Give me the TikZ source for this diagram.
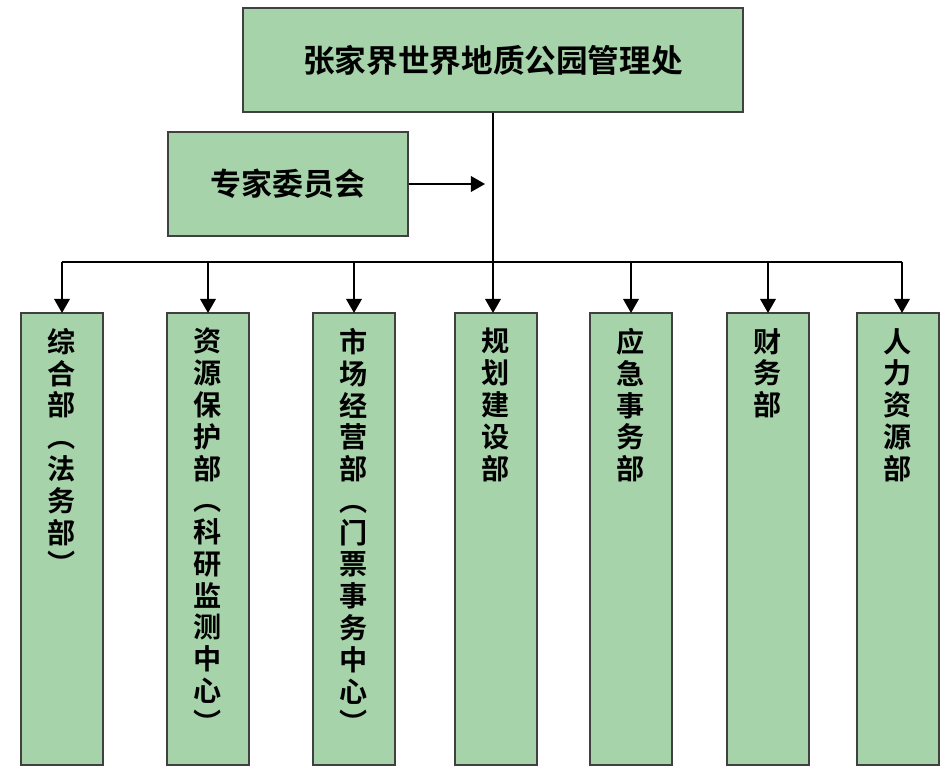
\documentclass[tikz,border=0pt]{standalone}
\usepackage{fontspec}
\setmainfont{Noto Sans CJK SC Bold}
\usetikzlibrary{arrows.meta}
\definecolor{boxgreen}{RGB}{166,211,170}
\begin{document}
\begin{tikzpicture}[x=0.025cm,y=-0.025cm]
    % Define styles
    \tikzset{
        unit/.style={rectangle, draw=black!75, line width=1.2pt, fill=boxgreen, inner sep=0pt},
        dept/.style={unit, minimum width=2.05cm, minimum height=11.3cm},
        vtext/.style={anchor=north, align=center, font=\fontsize{20}{22.6}\selectfont, inner sep=0pt},
        line/.style={line width=1.5pt},
        arrow/.style={line, -{Triangle[width=11pt,length=10pt]}}
    }
    \useasboundingbox (0,0) rectangle (951,775);

    % Top units
    \node[unit, minimum width=12.5cm, minimum height=2.6cm, font=\fontsize{22.5}{25}\selectfont] (office) at (493,60) {张家界世界地质公园管理处};
    \node[unit, minimum width=6cm, minimum height=2.6cm, font=\fontsize{22}{24}\selectfont] (experts) at (288,184) {专家委员会};
    \coordinate (mid) at (493,184);
    \coordinate (bus) at (493,262);

    % Departments
    \node[dept] (general) at (62,539) {};
    \node[dept] (resource) at (208,539) {};
    \node[dept] (market) at (354,539) {};
    \node[dept] (planning) at (496,539) {};
    \node[dept] (emergency) at (631,539) {};
    \node[dept] (finance) at (768,539) {};
    \node[dept] (hr) at (898,539) {};

    \node[vtext] at (62,328) {综\\合\\部\\︵\\法\\务\\部\\︶};
    \node[vtext] at (208,328) {资\\源\\保\\护\\部\\︵\\科\\研\\监\\测\\中\\心\\︶};
    \node[vtext] at (354,328) {市\\场\\经\\营\\部\\︵\\门\\票\\事\\务\\中\\心\\︶};
    \node[vtext] at (496,328) {规\\划\\建\\设\\部};
    \node[vtext] at (631,328) {应\\急\\事\\务\\部};
    \node[vtext] at (768,328) {财\\务\\部};
    \node[vtext] at (898,328) {人\\力\\资\\源\\部};

    % Connectors
    \draw[line] (office.south) -- (bus);
    \draw[arrow] (experts.east) -- ([xshift=-0.2cm]mid);
    \draw[line] (62,262) -- (902,262);
    \foreach \d/\x in {general/62, resource/208, market/354, planning/493, emergency/631, finance/768, hr/902}
        \draw[arrow] (\x,262) -- (\x,313);
\end{tikzpicture}
\end{document}
